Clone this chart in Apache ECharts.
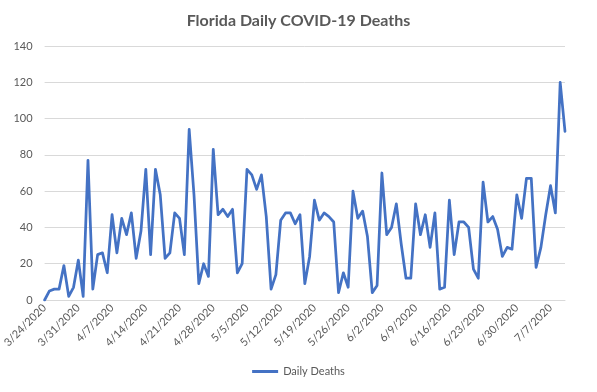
<!DOCTYPE html>
<html>
<head>
<meta charset="utf-8">
<script src="https://cdn.jsdelivr.net/npm/echarts@6/dist/echarts.min.js"></script>
<style>
html,body{margin:0;padding:0;background:#fff;}
#chart{width:597px;height:392px;}
</style>
</head>
<body>
<div id="chart"></div>
<script>
var categories = [
'3/24/2020','3/25/2020','3/26/2020','3/27/2020','3/28/2020','3/29/2020','3/30/2020','3/31/2020',
'4/1/2020','4/2/2020','4/3/2020','4/4/2020','4/5/2020','4/6/2020','4/7/2020','4/8/2020','4/9/2020','4/10/2020',
'4/11/2020','4/12/2020','4/13/2020','4/14/2020','4/15/2020','4/16/2020','4/17/2020','4/18/2020','4/19/2020','4/20/2020',
'4/21/2020','4/22/2020','4/23/2020','4/24/2020','4/25/2020','4/26/2020','4/27/2020','4/28/2020','4/29/2020','4/30/2020',
'5/1/2020','5/2/2020','5/3/2020','5/4/2020','5/5/2020','5/6/2020','5/7/2020','5/8/2020','5/9/2020','5/10/2020',
'5/11/2020','5/12/2020','5/13/2020','5/14/2020','5/15/2020','5/16/2020','5/17/2020','5/18/2020','5/19/2020','5/20/2020',
'5/21/2020','5/22/2020','5/23/2020','5/24/2020','5/25/2020','5/26/2020','5/27/2020','5/28/2020','5/29/2020','5/30/2020','5/31/2020',
'6/1/2020','6/2/2020','6/3/2020','6/4/2020','6/5/2020','6/6/2020','6/7/2020','6/8/2020','6/9/2020','6/10/2020',
'6/11/2020','6/12/2020','6/13/2020','6/14/2020','6/15/2020','6/16/2020','6/17/2020','6/18/2020','6/19/2020','6/20/2020',
'6/21/2020','6/22/2020','6/23/2020','6/24/2020','6/25/2020','6/26/2020','6/27/2020','6/28/2020','6/29/2020','6/30/2020',
'7/1/2020','7/2/2020','7/3/2020','7/4/2020','7/5/2020','7/6/2020','7/7/2020','7/8/2020','7/9/2020','7/10/2020'
];
var dailyDeaths = [
0,5,6,6,19,2,7,22,
2,77,6,25,26,15,47,26,45,36,48,23,38,72,25,72,58,23,26,48,45,25,94,58,9,20,13,83,47,50,
46,50,15,20,72,69,61,69,46,6,14,44,48,48,42,47,9,24,55,44,48,46,43,4,15,7,60,45,49,35,4,
8,70,36,40,53,31,12,12,53,36,47,29,48,6,7,55,25,43,43,40,17,12,65,43,46,39,24,29,28,58,
45,67,67,18,29,47,63,48,120,93
];
var yTicks = {min: 0, max: 140, step: 20};
var titleText = 'Florida Daily COVID-19 Deaths';
var seriesName = 'Daily Deaths';

var font = 'Lato, "Open Sans", sans-serif';
var chart = echarts.init(document.getElementById('chart'), null, {renderer: 'canvas'});
chart.setOption({
  animation: false,
  backgroundColor: '#ffffff',
  title: {
    text: titleText,
    left: 'center',
    top: 8,
    textStyle: {fontFamily: font, fontSize: 16, fontWeight: 'bold', color: '#595959'}
  },
  legend: {
    data: [seriesName],
    bottom: 10,
    left: 'center',
    icon: 'rect',
    itemWidth: 26,
    itemHeight: 3,
    itemGap: 6,
    textStyle: {fontFamily: font, fontSize: 11, color: '#595959'}
  },
  grid: {left: 40, right: 32, top: 46, bottom: 92, containLabel: false},
  xAxis: {
    type: 'category',
    data: categories,
    boundaryGap: false,
    axisLine: {lineStyle: {color: '#d9d9d9', width: 1}},
    axisTick: {show: false},
    axisLabel: {interval: 6, rotate: 45, fontFamily: font, fontSize: 11, color: '#595959', margin: 6},
    splitLine: {show: false}
  },
  yAxis: {
    type: 'value',
    min: yTicks.min,
    max: yTicks.max,
    interval: yTicks.step,
    axisLine: {show: false},
    axisTick: {show: false},
    axisLabel: {fontFamily: font, fontSize: 11, color: '#595959', margin: 12},
    splitLine: {lineStyle: {color: '#d9d9d9', width: 1}}
  },
  series: [{
    name: seriesName,
    type: 'line',
    data: dailyDeaths,
    symbol: 'none',
    lineStyle: {color: '#4472C4', width: 2.75, join: 'round', cap: 'round'},
    itemStyle: {color: '#4472C4'}
  }]
});
</script>
</body>
</html>
